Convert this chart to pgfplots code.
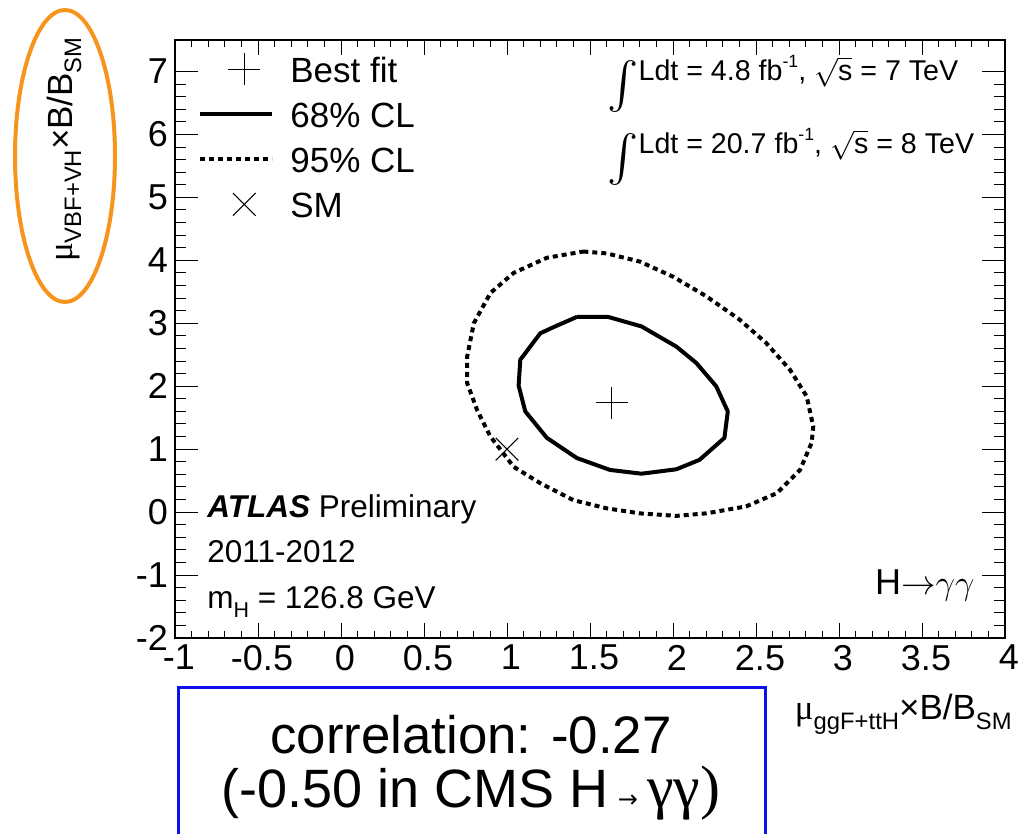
\documentclass[border=0pt]{standalone}
\usepackage{pgfplots}
\pgfplotsset{compat=1.18}
\usepackage{fontspec}
\setmainfont{Liberation Sans}
\newfontfamily\serifg{Liberation Serif}
\newfontfamily\dv{DejaVu Sans}
\newcommand\sub[1]{\raisebox{-0.5ex}{\scalebox{0.68}{#1}}}
\newcommand\sups[1]{\raisebox{0.9ex}{\scalebox{0.62}{#1}}}
\newcommand\intg{\raisebox{-11pt}{\resizebox*{!}{26pt}{$\int$}}}
\definecolor{ellorange}{RGB}{247,148,30}
\definecolor{boxblue}{RGB}{15,15,235}
\pgfplotsset{
  legline/.style={legend image code/.code={\draw[##1] (0pt,1pt) -- (36pt,1pt); \path (44pt,0pt);}},
  legmark/.style={legend image code/.code={\path (0pt,0pt) (44pt,0pt); \draw[##1] plot coordinates {(22pt,1pt)};}},
}

\pgfplotstableread{
x y
1.42 3.10
1.61 3.10
1.81 2.95
2.02 2.63
2.14 2.37
2.26 2.00
2.33 1.60
2.31 1.18
2.16 0.83
2.02 0.68
1.81 0.61
1.62 0.67
1.42 0.86
1.24 1.18
1.11 1.60
1.07 2.01
1.08 2.42
1.20 2.84
1.29 2.95
1.42 3.10
}\cla

\pgfplotstableread{
x y
1.46 4.14
1.60 4.11
1.80 3.98
2.00 3.74
2.20 3.43
2.40 3.06
2.56 2.69
2.705 2.26
2.805 1.84
2.845 1.36
2.835 1.10
2.765 0.67
2.625 0.30
2.44 0.09
2.20 -0.02
2.02 -0.06
1.80 -0.02
1.60 0.06
1.40 0.19
1.20 0.46
1.04 0.72
0.90 1.20
0.82 1.62
0.76 2.05
0.76 2.47
0.80 3.00
0.90 3.48
1.04 3.80
1.24 4.04
1.46 4.14
}\clb

\begin{document}
\begin{tikzpicture}[x=0.5pt,y=0.5pt]
\useasboundingbox (0,0) rectangle (1032,834);
\pgfplotsset{myax/.style={
  at={(87.5pt,98pt)}, anchor=south west, scale only axis,
  width=415pt, height=299pt,
  xmin=-1, xmax=4, ymin=-2, ymax=7.5,
  tick align=inside, tick pos=both,
  axis line style={line width=0.75pt},
  every tick/.style={black, line width=0.5pt},
  /pgf/number format/assume math mode=true,
  tick label style={font=\fontsize{18}{20}\selectfont},
}}
\begin{axis}[myax,
  xtick={-1,-0.5,0,0.5,1,1.5,2,2.5,3,3.5,4},
  xticklabels={-1,-0.5,0,0.5,1,1.5,2,2.5,3,3.5,4},
  xticklabel style={xshift=2pt},
  ytick=\empty, minor x tick num=4,
  major tick length=7.5pt, minor tick length=3.5pt,
  legend cell align=left,
  legend style={draw=none, fill=none,
    at={(axis description cs:0.0204,0.985)}, anchor=north west,
    font=\fontsize{17.5}{20}\selectfont, row sep=4.5pt,
    nodes={inner sep=0pt, text height=14.5pt, text depth=3.5pt}},
]
\addplot[only marks, mark=+, mark size=8pt, line width=0.55pt, black, legmark]
  coordinates {(1.63,1.74)};
\addlegendentry{Best fit}
\addplot[black, line width=2pt, line join=round, legline]
  table[x=x,y=y] {\cla};
\addlegendentry{68\% CL}
\addplot[black, line width=2pt, dash pattern=on 2.5pt off 2pt, line join=round, legline]
  table[x=x,y=y] {\clb};
\addlegendentry{95\% CL}
\addplot[only marks, mark=x, mark size=8pt, line width=0.55pt, black, legmark]
  coordinates {(1,1)};
\addlegendentry{SM}
\end{axis}
\begin{axis}[myax,
  xtick=\empty, ytick={-2,-1,0,1,2,3,4,5,6,7},
  yticklabels={-2,-1,0,1,2,3,4,5,6,7},
  minor y tick num=4,
  major tick length=11.5pt, minor tick length=5.5pt,
]
\end{axis}

% annotations
\node[anchor=base west, font=\fontsize{14.3}{18}\selectfont, inner sep=0pt] at (607,753)
  {\intg Ldt = 4.8 fb\sups{-1}, $\sqrt{\mbox{s}}$ = 7 TeV};
\node[anchor=base west, font=\fontsize{14.3}{18}\selectfont, inner sep=0pt] at (607,680)
  {\intg Ldt = 20.7 fb\sups{-1}, $\sqrt{\mbox{s}}$ = 8 TeV};
\node[anchor=base west, font=\fontsize{15.75}{18}\selectfont, inner sep=0pt] at (207,316)
  {\textbf{\textit{ATLAS}} Preliminary};
\node[anchor=base west, font=\fontsize{15.75}{18}\selectfont, inner sep=0pt] at (207,271)
  {2011-2012};
\node[anchor=base west, font=\fontsize{15.75}{18}\selectfont, inner sep=0pt] at (207,225)
  {m\sub{H} = 126.8 GeV};
\node[anchor=base east, font=\fontsize{18}{20}\selectfont, inner sep=0pt] at (975,239)
  {H$\mathord{\rightarrow}\gamma\gamma$};
% axis titles
\node[anchor=base east, font=\fontsize{17.5}{20}\selectfont, inner sep=0pt] at (1012,114)
  {{\serifg μ}\sub{ggF+ttH}×B/B\sub{SM}};
\node[rotate=90, anchor=base east, font=\fontsize{17.5}{20}\selectfont, inner sep=0pt] at (72,797)
  {{\serifg μ}\sub{VBF+VH}×B/B\sub{SM}};
\draw[ellorange, line width=2pt] (65,678) ellipse [x radius=50, y radius=146];
% correlation box
\draw[boxblue, line width=1.5pt] (178,-10) -- (178,146) -- (765,146) -- (765,-10);
\node[anchor=base, font=\fontsize{26.4}{30}\selectfont, inner sep=0pt] at (471,80)
  {correlation: -0.27};
\node[anchor=base, font=\fontsize{27}{30}\selectfont, inner sep=0pt] at (471,26)
  {(-0.50 in CMS H\,{\dv\fontsize{12}{14}\selectfont →}\,{\serifg\fontsize{30}{32}\selectfont γγ)}};
\end{tikzpicture}
\end{document}
